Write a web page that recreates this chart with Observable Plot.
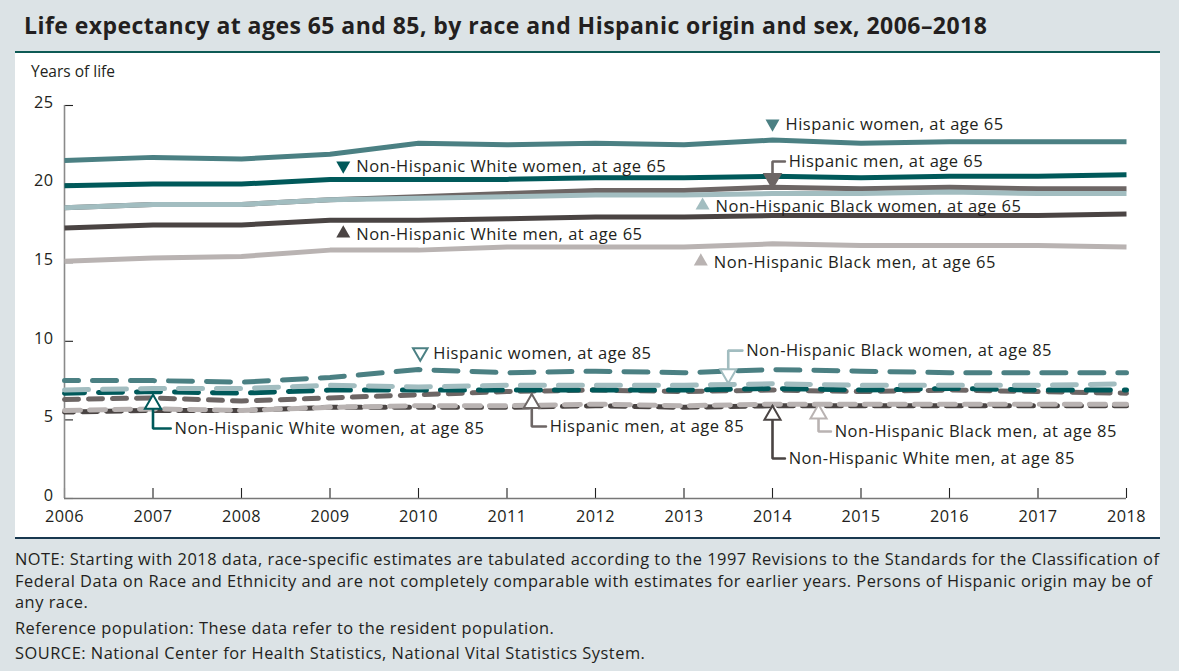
<!DOCTYPE html>
<html>
<head>
<meta charset="utf-8">
<script src="https://cdn.jsdelivr.net/npm/d3@7"></script>
<script src="https://cdn.jsdelivr.net/npm/@observablehq/plot@0.6"></script>
<style>
  body { margin: 0; background: #dce3e6; font-family: "Open Sans", sans-serif; color: #231f20; width: 1179px; height: 671px; position: relative; overflow: hidden; }
  #title { position: absolute; left: 24px; top: 9px; font-weight: 700; font-size: 23px; white-space: nowrap; letter-spacing: 0.45px; }
  #panel { position: absolute; left: 15px; top: 51px; width: 1145px; height: 484px; background: #fff; border-top: 2px solid #0d5a55; border-bottom: 2px solid #18384f; }
  #ylab { position: absolute; left: 16px; top: 7px; font-size: 15.5px; }
  #chart { position: absolute; left: 0; top: 0; }
  #chart svg text { letter-spacing: 0.5px; }
  #notes { position: absolute; left: 15px; top: 548px; font-size: 16.4px; line-height: 21.5px; white-space: nowrap; letter-spacing: 0.5px; }
  #notes p { margin: 0; }
  #notes p + p { margin-top: 4px; }
</style>
</head>
<body>
<div id="title">Life expectancy at ages 65 and 85, by race and Hispanic origin and sex, 2006–2018</div>
<div id="panel">
  <div id="ylab">Years of life</div>
  <div id="chart"></div>
</div>
<div id="notes">
  <p>NOTE: Starting with 2018 data, race-specific estimates are tabulated according to the 1997 Revisions to the Standards for the Classification of<br>Federal Data on Race and Ethnicity and are not completely comparable with estimates for earlier years. Persons of Hispanic origin may be of<br>any race.</p>
  <p>Reference population: These data refer to the resident population.</p>
  <p>SOURCE: National Center for Health Statistics, National Vital Statistics System.</p>
</div>
<script>
// Years covered
const years = [2006, 2007, 2008, 2009, 2010, 2011, 2012, 2013, 2014, 2015, 2016, 2017, 2018];
const yTicks = [0, 5, 10, 15, 20, 25];

// Life expectancy at age 65 (years)
const hispanicWomen65   = [21.5, 21.7, 21.6, 21.9, 22.6, 22.5, 22.6, 22.5, 22.8, 22.6, 22.7, 22.7, 22.7];
const whiteWomen65      = [19.9, 20.0, 20.0, 20.3, 20.3, 20.3, 20.4, 20.4, 20.5, 20.4, 20.5, 20.5, 20.6];
const hispanicMen65     = [18.5, 18.7, 18.7, 19.0, 19.2, 19.4, 19.6, 19.6, 19.8, 19.7, 19.8, 19.7, 19.7];
const blackWomen65      = [18.5, 18.7, 18.7, 19.0, 19.1, 19.2, 19.3, 19.3, 19.4, 19.4, 19.5, 19.4, 19.4];
const whiteMen65        = [17.2, 17.4, 17.4, 17.7, 17.7, 17.8, 17.9, 17.9, 18.0, 18.0, 18.0, 18.0, 18.1];
const blackMen65        = [15.1, 15.3, 15.4, 15.8, 15.8, 16.0, 16.0, 16.0, 16.2, 16.1, 16.1, 16.1, 16.0];

// Life expectancy at age 85 (years)
const hispanicWomen85   = [7.5, 7.5, 7.4, 7.7, 8.2, 8.0, 8.1, 8.0, 8.2, 8.1, 8.0, 8.0, 8.0];
const blackWomen85      = [6.9, 7.0, 7.0, 7.2, 7.1, 7.2, 7.2, 7.2, 7.3, 7.2, 7.2, 7.2, 7.3];
const whiteWomen85      = [6.7, 6.8, 6.7, 6.9, 6.9, 6.9, 6.9, 6.9, 7.0, 6.9, 7.0, 6.9, 6.9];
const hispanicMen85     = [6.3, 6.4, 6.2, 6.4, 6.6, 6.8, 6.9, 6.8, 6.9, 6.8, 6.9, 6.8, 6.7];
const whiteMen85        = [5.5, 5.6, 5.6, 5.8, 5.8, 5.8, 5.9, 5.8, 5.9, 5.9, 5.9, 5.9, 5.9];
const blackMen85        = [5.6, 5.7, 5.6, 5.8, 5.9, 5.9, 6.0, 5.9, 6.0, 6.0, 6.0, 6.0, 6.0];

// Group colors
const C = {
  hispanicWomen: "#4b8083",
  whiteWomen: "#00595a",
  hispanicMen: "#6d6665",
  blackWomen: "#a2bdc0",
  whiteMen: "#4a4443",
  blackMen: "#b9b3b2"
};

const toRows = (vals) => years.map((year, i) => ({year, value: vals[i]}));

// Series in drawing order (later ones sit on top)
const series = [
  {vals: whiteMen85,      color: C.whiteMen,      dash: "15,9", offset: 6},
  {vals: blackMen85,      color: C.blackMen,      dash: "16,9"},
  {vals: hispanicMen85,   color: C.hispanicMen,   dash: "14,10"},
  {vals: whiteWomen85,    color: C.whiteWomen,    dash: "24,14", offset: 4},
  {vals: blackWomen85,    color: C.blackWomen,    dash: "24,14"},
  {vals: hispanicWomen85, color: C.hispanicWomen, dash: "24,14", offset: 10},
  {vals: blackMen65,      color: C.blackMen},
  {vals: whiteMen65,      color: C.whiteMen},
  {vals: hispanicMen65,   color: C.hispanicMen},
  {vals: blackWomen65,    color: C.blackWomen},
  {vals: whiteWomen65,    color: C.whiteWomen},
  {vals: hispanicWomen65, color: C.hispanicWomen}
];

// Labels with a small triangle in front of them
const triangleNotes = [
  {label: "Hispanic women, at age 65",              x: 2014.0,  y: 23.85, color: C.hispanicWomen, down: true,  hollow: false},
  {label: "Non-Hispanic White women, at age 65",    x: 2009.15, y: 21.18, color: C.whiteWomen,    down: true,  hollow: false},
  {label: "Non-Hispanic Black women, at age 65",    x: 2013.21, y: 18.64, color: C.blackWomen,    down: false, hollow: false},
  {label: "Non-Hispanic White men, at age 65",      x: 2009.15, y: 16.86, color: C.whiteMen,      down: false, hollow: false},
  {label: "Non-Hispanic Black men, at age 65",      x: 2013.19, y: 15.08, color: C.blackMen,      down: false, hollow: false},
  {label: "Hispanic women, at age 85",              x: 2010.02, y: 9.29,  color: C.hispanicWomen, down: true,  hollow: true}
];

// Labels joined to their line by an elbow arrow
const arrowNotes = [
  {label: "Hispanic men, at age 65",               tipX: 2014.0,  tipY: 19.8, elbowY: 21.44, textX: 2014.16, color: C.hispanicMen, down: true,  hollow: false},
  {label: "Non-Hispanic Black women, at age 85",   tipX: 2013.5,  tipY: 7.38, elbowY: 9.41,  textX: 2013.68, color: C.blackWomen,  down: true,  hollow: true},
  {label: "Non-Hispanic White women, at age 85",   tipX: 2007.0,  tipY: 6.55, elbowY: 4.45,  textX: 2007.22, color: C.whiteWomen,  down: false, hollow: true},
  {label: "Hispanic men, at age 85",               tipX: 2011.28, tipY: 6.6,  elbowY: 4.58,  textX: 2011.46, color: C.hispanicMen, down: false, hollow: true},
  {label: "Non-Hispanic Black men, at age 85",     tipX: 2014.52, tipY: 5.92, elbowY: 4.26,  textX: 2014.68, color: C.blackMen,    down: false, hollow: true},
  {label: "Non-Hispanic White men, at age 85",     tipX: 2014.0,  tipY: 5.85, elbowY: 2.54,  textX: 2014.16, color: C.whiteMen,    down: false, hollow: true}
];

const elbowPaths = arrowNotes.flatMap((d, i) => [
  {id: i, x: d.textX - 0.02, y: d.elbowY, color: d.color},
  {id: i, x: d.tipX, y: d.elbowY, color: d.color},
  {id: i, x: d.tipX, y: d.tipY, color: d.color}
]);

const lineMarks = series.map(s => Plot.line(toRows(s.vals), {
  x: "year", y: "value",
  stroke: s.color, strokeWidth: 5,
  strokeDasharray: s.dash ?? null,
  strokeDashoffset: s.offset ?? 0,
  strokeLinecap: s.dash ? "round" : "butt",
  strokeLinejoin: "round"
}));

const fontSize = 16.5;

const chart = Plot.plot({
  width: 1145,
  height: 484,
  marginLeft: 49,
  marginRight: 34,
  marginTop: 52,
  marginBottom: 39,
  style: {fontFamily: "'Open Sans', sans-serif", fontSize: "16px", color: "#231f20", background: "transparent"},
  x: {domain: [2006, 2018]},
  y: {domain: [0, 25]},
  color: {type: "identity"},
  marks: [
    // axes: inward ticks, labels outside
    Plot.axisX({ticks: years, tickSize: 10, dy: -10, tickFormat: () => "", stroke: "#222", strokeWidth: 1.1}),
    Plot.axisX({ticks: years, tickSize: 0, tickPadding: 12, tickFormat: d => String(d), fontSize: 16.3, fill: "#231f20"}),
    Plot.axisY({ticks: yTicks, tickSize: 9, dx: 9, tickFormat: () => "", stroke: "#222", strokeWidth: 1.1}),
    Plot.axisY({ticks: yTicks, tickSize: 0, tickPadding: 11, dy: -3, fontSize: 16.3, fill: "#231f20"}),
    Plot.ruleX([2006], {stroke: "#8a8a8a", strokeWidth: 1.6}),
    Plot.ruleY([0], {stroke: "#777", strokeWidth: 1.6}),
    ...lineMarks,
    // elbow connectors
    Plot.line(elbowPaths, {x: "x", y: "y", z: "id", stroke: "color", strokeWidth: 2.6, strokeLinejoin: "miter"}),
    // arrowheads at the end of each connector
    ...arrowNotes.map(d => Plot.dot([d], {
      x: "tipX", y: "tipY", symbol: "triangle", r: 6,
      rotate: d.down ? 180 : 0,
      dy: d.down ? -8.5 : 8.5,
      fill: d.hollow ? "#ffffff" : d.color,
      stroke: d.color, strokeWidth: 2
    })),
    // triangle bullets in front of labels
    ...triangleNotes.map(d => Plot.dot([d], {
      x: "x", y: "y", symbol: "triangle", r: d.hollow ? 5.4 : 5.2,
      rotate: d.down ? 180 : 0,
      fill: d.hollow ? "#ffffff" : d.color,
      stroke: d.color, strokeWidth: d.hollow ? 2 : 0
    })),
    Plot.text(triangleNotes, {x: "x", y: "y", text: "label", textAnchor: "start", dx: 13, dy: 1, fontSize, fill: "#231f20"}),
    Plot.text(arrowNotes, {x: "textX", y: "elbowY", text: "label", textAnchor: "start", dx: 2, fontSize, fill: "#231f20"})
  ]
});

document.getElementById("chart").appendChild(chart);
</script>
</body>
</html>
